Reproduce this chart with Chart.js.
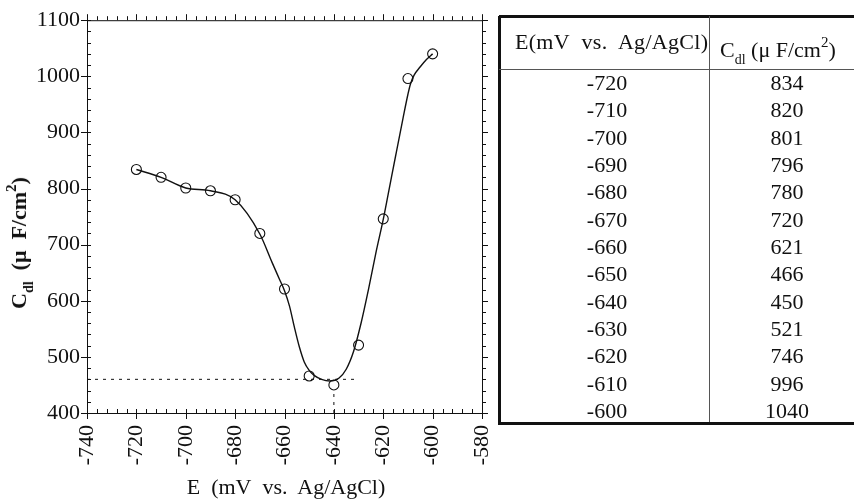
<!DOCTYPE html>
<html><head><meta charset="utf-8">
<script src="https://cdn.jsdelivr.net/npm/chart.js@4/dist/chart.umd.min.js"></script>
<style>
html,body{margin:0;padding:0;background:#fff;overflow:hidden;}
#wrap{position:relative;width:854px;height:502px;font-family:"Liberation Serif","Times New Roman",serif;color:#111;}
#c{position:absolute;left:0;top:0;}
.t{position:absolute;white-space:nowrap;font-size:22px;line-height:22px;}
.ln{position:absolute;background:#111;}
</style></head>
<body><div id="wrap"><canvas id="c" width="854" height="502"></canvas></div>
<script>
// ---- data ----
const E = [-720,-710,-700,-690,-680,-670,-660,-650,-640,-630,-620,-610,-600];
const Cdl = [834,820,801,796,780,720,621,466,450,521,746,996,1040];
// fitted smooth curve as drawn in the picture
const curveE = [-720,-710,-700,-690,-680,-670,-665,-662,-660,-658,-656,-654,-652,-650,-648,-645,-641.6,-638,-635,-632,-629,-626,-623,-620,-618,-615,-612,-610,-609,-607.5,-605,-602.5,-600];
const curveC = [834,820,801,796,780,719,668,638,618,591,553,518,491,476,467,460,457,462,478,510,560,620,685,745,790,858,925,968,986,1002,1017,1030,1040];
// dashed guide lines
const hGuideE = [-740,-631]; const hGuideC = [460,460];
const vGuideE = [-640,-640]; const vGuideC = [400,440];
const xTicks = [-740,-720,-700,-680,-660,-640,-620,-600,-580];
const yTicks = [400,500,600,700,800,900,1000,1100];
const headE = 'E(mV&nbsp; vs.&nbsp; Ag/AgCl)';
const headC = 'C<sub style="font-size:14px;vertical-align:-7px">dl</sub> (μ F/cm<sup style="font-size:15px;vertical-align:10px">2</sup>)';

const ink = '#111';
const boxTicks = {
  id:'boxTicks',
  afterDraw(chart){
    const {ctx, chartArea:a, scales:{x,y}} = chart;
    ctx.save();
    ctx.strokeStyle = ink; ctx.lineWidth = 1;
    ctx.strokeRect(a.left+0.5, a.top+0.5, a.right-a.left, a.bottom-a.top);
    ctx.beginPath();
    for(let v=-740; v<=-580; v+=4){
      const px = Math.round(x.getPixelForValue(v))+0.5;
      const major = (v % 20 === 0);
      const L = major?6:4;
      if(major){ ctx.moveTo(px,a.bottom); ctx.lineTo(px,a.bottom+L); ctx.moveTo(px,a.bottom); ctx.lineTo(px,a.bottom-4);}
      else { ctx.moveTo(px,a.bottom); ctx.lineTo(px,a.bottom-L); }
      ctx.moveTo(px,a.top); ctx.lineTo(px,a.top-L);
    }
    for(let v=400; v<=1100; v+=20){
      const py = Math.round(y.getPixelForValue(v))+0.5;
      const major = (v % 100 === 0);
      const L = major?6:4;
      if(major){ ctx.moveTo(a.left,py); ctx.lineTo(a.left-L,py); ctx.moveTo(a.left,py); ctx.lineTo(a.left+4,py);}
      else { ctx.moveTo(a.left,py); ctx.lineTo(a.left+L,py); }
      ctx.moveTo(a.right,py); ctx.lineTo(a.right+L,py);
    }
    ctx.stroke();
    ctx.restore();
  }
};

new Chart(document.getElementById('c'), {
  type:'scatter',
  data:{datasets:[
    {data:hGuideE.map((v,i)=>({x:v,y:hGuideC[i]})), showLine:true, borderColor:ink, borderWidth:1, borderDash:[3,5], pointRadius:0},
    {data:vGuideE.map((v,i)=>({x:v,y:vGuideC[i]})), showLine:true, borderColor:ink, borderWidth:1, borderDash:[3,5], pointRadius:0},
    {data:curveE.map((v,i)=>({x:v,y:curveC[i]})), showLine:true, borderColor:ink, borderWidth:1.4, cubicInterpolationMode:'monotone', pointRadius:0},
    {data:E.map((v,i)=>({x:v,y:Cdl[i]})), showLine:false, pointRadius:5, pointBorderWidth:1.1, pointBorderColor:ink, pointBackgroundColor:'#fff'}
  ]},
  options:{
    responsive:false, animation:false, events:[],
    layout:{padding:{left:0,top:19,right:372,bottom:0}},
    plugins:{legend:{display:false}, tooltip:{enabled:false}},
    scales:{
      x:{type:'linear', min:-740, max:-580,
        afterBuildTicks(s){ s.ticks = xTicks.map(v=>({value:v})); },
        afterFit(s){ s.height = 89; },
        grid:{display:false, drawTicks:false}, border:{display:false},
        ticks:{color:ink, font:{family:'"Liberation Serif", serif', size:22}, minRotation:90, maxRotation:90, padding:12, callback:v=>String(v)}
      },
      y:{type:'linear', min:400, max:1100,
        afterBuildTicks(s){ s.ticks = yTicks.map(v=>({value:v})); },
        afterFit(s){ s.width = 87; },
        grid:{display:false, drawTicks:false}, border:{display:false},
        ticks:{color:ink, font:{family:'"Liberation Serif", serif', size:22}, padding:7, callback:v=>String(v)}
      }
    }
  },
  plugins:[boxTicks]
});

// ---- axis titles and table as real text ----
const wrap = document.getElementById('wrap');
function add(cls, html, css){ const d=document.createElement('div'); d.className=cls; d.innerHTML=html; Object.assign(d.style, css); wrap.appendChild(d); return d; }
add('t','E&nbsp; (mV&nbsp; vs.&nbsp; Ag/AgCl)',{left:'286px',top:'476px',transform:'translateX(-50%)',fontSize:'22px'});
add('t','C<sub style="font-size:14px;vertical-align:-7px">dl</sub>&nbsp; (μ&nbsp; F/cm<sup style="font-size:15px;vertical-align:10px">2</sup>)',{left:'20px',top:'243px',transform:'translate(-50%,-50%) rotate(-90deg)',fontSize:'22px',fontWeight:'bold'});

// table
const tL=499, tT=16, tB=422, colX=709, headY=69;
add('ln','',{left:(tL-1)+'px',top:tT+'px',width:'3px',height:(tB-tT+3)+'px'});
add('ln','',{left:tL+'px',top:(tT-1)+'px',width:(854-tL)+'px',height:'3px'});
add('ln','',{left:tL+'px',top:tB+'px',width:(854-tL)+'px',height:'3px'});
add('ln','',{left:tL+'px',top:headY+'px',width:(854-tL)+'px',height:'1px',background:'#555'});
add('ln','',{left:colX+'px',top:tT+'px',width:'1px',height:(tB-tT)+'px',background:'#555'});
add('t',headE,{left:'515px',top:'31px',fontSize:'22px',letterSpacing:'0.3px'});
add('t',headC,{left:'720px',top:'31px',fontSize:'22px'});
E.forEach((v,i)=>{
  const cy = 83 + i*27.33;
  add('t', String(v), {left:'607px', top:(cy-11)+'px', transform:'translateX(-50%)'});
  add('t', String(Cdl[i]), {left:'787px', top:(cy-11)+'px', transform:'translateX(-50%)'});
});
</script></body></html>
